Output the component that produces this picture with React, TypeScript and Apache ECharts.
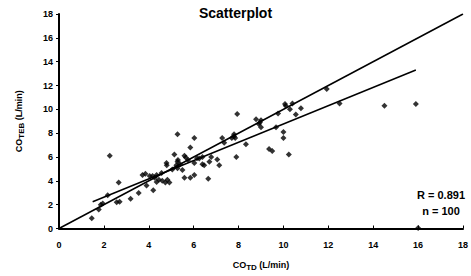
import React, { useEffect, useRef } from "react";
import * as echarts from "echarts";

const xTicks = [0, 2, 4, 6, 8, 10, 12, 14, 16, 18];
const coTD = [
  1.46, 1.77, 1.86, 1.95, 2.17, 2.26, 2.57, 2.7, 2.66, 3.19, 3.55, 3.72, 3.9, 4.04, 4.2, 4.26, 4.35, 4.35, 4.17, 3.85,
  4.57, 4.79, 4.8, 4.74, 4.83, 4.92, 5.14, 5.23, 5.28, 5.28, 5.28, 5.5, 5.59, 5.59, 5.65, 5.85, 5.85, 6.03, 6.03, 6.03,
  6.25, 6.39, 6.39, 6.47, 6.65, 6.7, 6.78, 7.05, 7.14, 7.27, 7.36, 7.7, 7.85, 7.8, 7.9, 7.94,
  8.33, 8.78, 8.9, 9.0, 9.0, 9.36, 9.5, 9.67, 9.76, 10.0, 10.0, 10.07, 10.29, 10.24, 10.4, 10.55, 10.78,
  11.93, 12.5, 14.5, 15.9, 16.0,
  4.45, 5.05, 5.4, 5.75, 6.15, 4.6, 7.8, 10.1, 8.95, 5.3,
];
const coTEB = [
  0.85, 1.6, 2.0, 2.1, 2.8, 6.1, 2.2, 2.25, 3.86, 2.5, 2.97, 4.5, 3.6, 4.4, 3.2, 4.26, 3.9, 4.5, 4.4, 4.6,
  4.66, 5.5, 5.3, 3.86, 4.1, 3.86, 6.2, 5.3, 5.6, 5.06, 7.9, 4.9, 6.1, 4.26, 5.95, 6.8, 4.26, 7.6, 5.5, 4.5,
  5.87, 6.0, 5.4, 5.3, 4.18, 5.6, 6.0, 5.8, 5.3, 7.6, 7.2, 7.6, 7.6, 7.9, 6.0, 9.6,
  7.07, 9.16, 8.76, 9.08, 8.5, 6.67, 6.5, 8.5, 9.65, 8.1, 7.6, 10.45, 10.0, 6.2, 10.5, 9.56, 10.1,
  11.7, 10.5, 10.3, 10.45, 0.05,
  4.1, 4.95, 5.4, 5.75, 5.9, 4.0, 7.75, 10.3, 8.9, 5.75,
];
const identityX = [0, 18];
const identityY = [0, 18];
const regressionX = [1.5, 15.9];
const regressionY = [2.25, 13.3];
const statsText = ["R = 0.891", "n = 100"];

const FONT = "'Liberation Sans', Arial, sans-serif";

export default function App() {
  const ref = useRef<HTMLDivElement>(null);
  useEffect(() => {
    if (!ref.current) return;
    const chart = echarts.init(ref.current, undefined, { renderer: "svg" });
    chart.setOption({
      animation: false,
      textStyle: { fontFamily: FONT },
      title: {
        text: "Scatterplot",
        left: "center",
        top: 1,
        textStyle: { fontFamily: FONT, fontSize: 14, fontWeight: "bold", color: "#000" },
      },
      grid: { left: 59, right: 6, top: 14, bottom: 38, containLabel: false },
      xAxis: {
        type: "value",
        min: 0,
        max: 18,
        interval: 2,
        name: "{a|CO}{b|TD}{a| (L/min)}",
        nameLocation: "middle",
        nameGap: 30,
        nameTextStyle: {
          rich: {
            a: { fontFamily: FONT, fontSize: 9, fontWeight: "bold", color: "#000", lineHeight: 12 },
            b: { fontFamily: FONT, fontSize: 8, fontWeight: "bold", color: "#000", lineHeight: 12, padding: [5, 0, 0, 0] },
          },
        },
        axisLine: { lineStyle: { color: "#000", width: 2 } },
        axisTick: { inside: true, length: 3, lineStyle: { color: "#000" } },
        axisLabel: {
          color: "#000",
          fontSize: 9,
          fontWeight: "bold",
          fontFamily: FONT,
          margin: 12,
          formatter: (v: number) => (xTicks.includes(v) ? String(v) : ""),
        },
        splitLine: { show: false },
      },
      yAxis: {
        type: "value",
        min: 0,
        max: 18,
        interval: 2,
        name: "{a|CO}{b|TEB}{a| (L/min)}",
        nameLocation: "middle",
        nameGap: 34,
        nameRotate: 90,
        nameTextStyle: {
          rich: {
            a: { fontFamily: FONT, fontSize: 9, fontWeight: "bold", color: "#000", lineHeight: 12 },
            b: { fontFamily: FONT, fontSize: 8, fontWeight: "bold", color: "#000", lineHeight: 12, padding: [5, 0, 0, 0] },
          },
        },
        axisLine: { show: true, lineStyle: { color: "#000", width: 2 } },
        axisTick: { show: true, length: 3, lineStyle: { color: "#000" } },
        axisLabel: { color: "#000", fontSize: 9, fontWeight: "bold", fontFamily: FONT, margin: 6 },
        splitLine: { show: false },
      },
      graphic: [
        {
          type: "text",
          left: 412,
          top: 187,
          style: {
            text: statsText.join("\n"),
            fill: "#000",
            font: `bold 11px ${FONT}`,
            textAlign: "center",
            lineHeight: 16,
            width: 58,
            align: "center",
          },
        },
      ],
      series: [
        {
          type: "scatter",
          symbol: "diamond",
          symbolSize: 6,
          itemStyle: { color: "#000" },
          data: coTD.map((x, i) => [x, coTEB[i]]),
          z: 3,
        },
        {
          type: "line",
          data: identityX.map((x, i) => [x, identityY[i]]),
          showSymbol: false,
          lineStyle: { color: "#000", width: 1.5 },
          z: 2,
        },
        {
          type: "line",
          data: regressionX.map((x, i) => [x, regressionY[i]]),
          showSymbol: false,
          lineStyle: { color: "#000", width: 1.5 },
          z: 2,
        },
      ],
    });
    return () => chart.dispose();
  }, []);
  return <div ref={ref} style={{ width: 471, height: 276, position: "absolute", left: 0, top: 0 }} />;
}
